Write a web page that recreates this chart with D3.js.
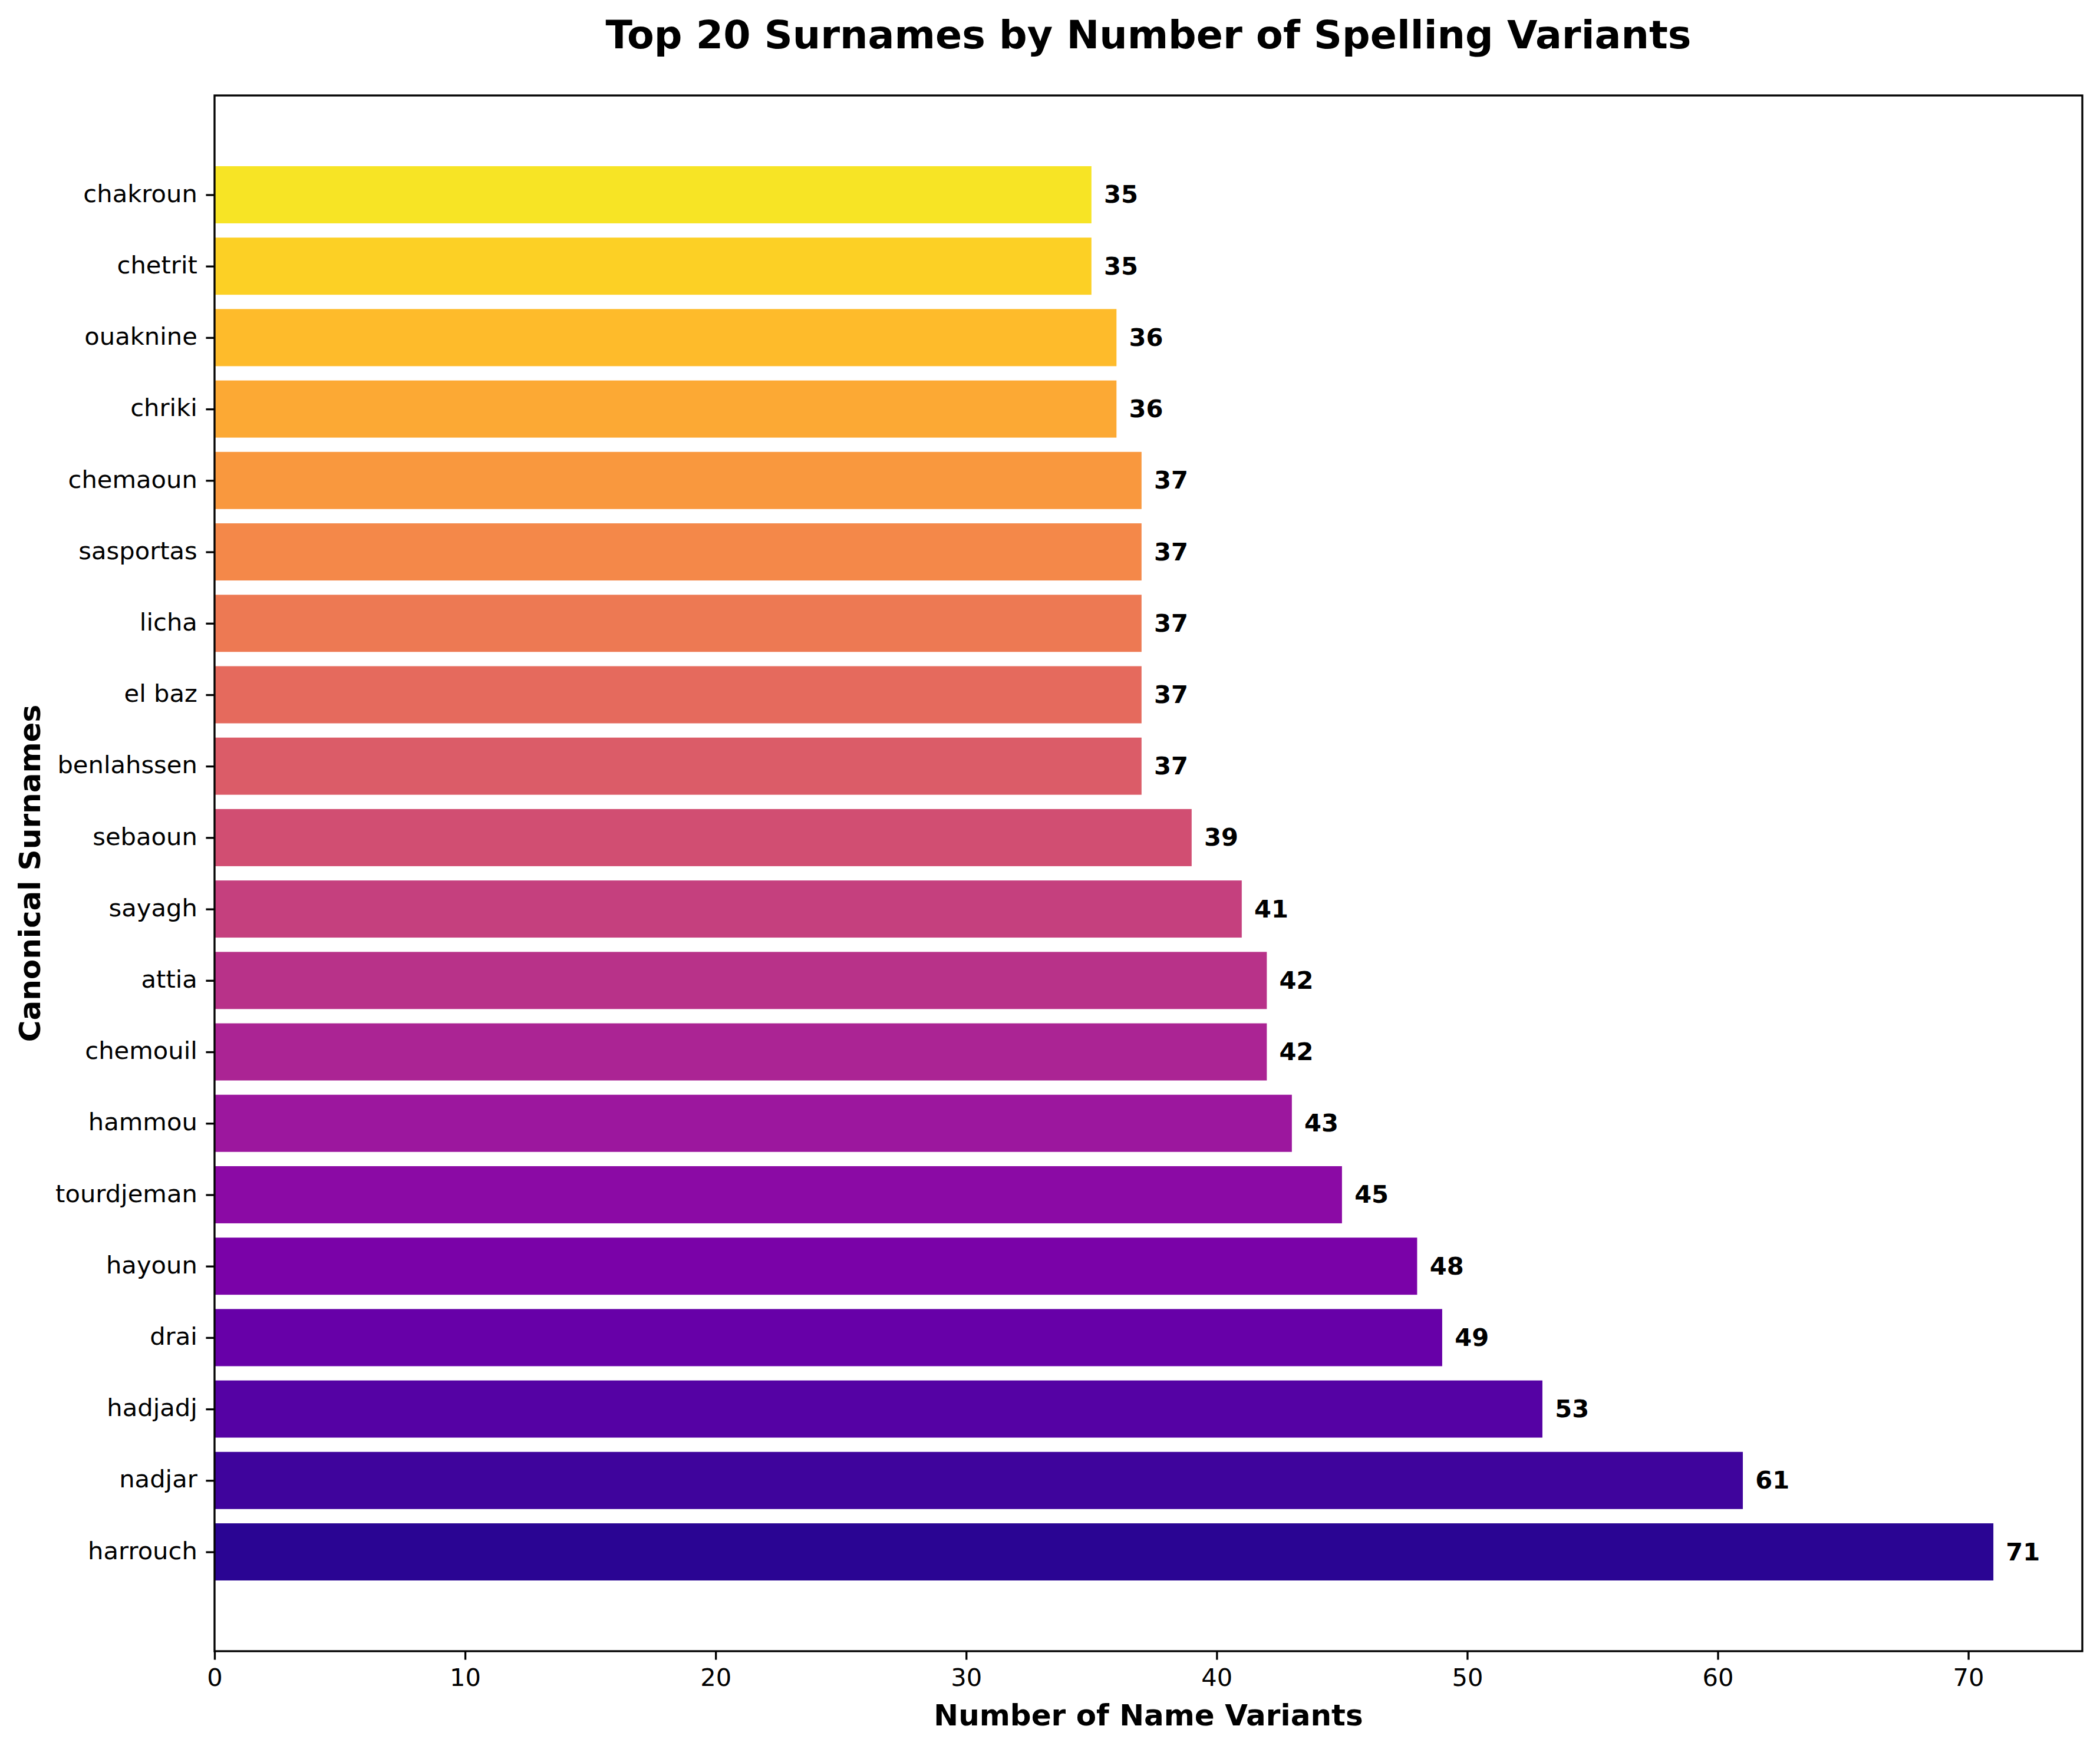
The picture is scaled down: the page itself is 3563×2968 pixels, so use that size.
<!DOCTYPE html>
<html>
<head>
<meta charset="utf-8">
<script src="https://cdn.jsdelivr.net/npm/d3@7"></script>
<style>
  html, body { margin: 0; padding: 0; background: #fff; overflow: hidden; }
  svg { display: block; }
</style>
</head>
<body>
<div id="chart"></div>
<script>
// surnames from bottom (largest) to top
const surnames = ["harrouch", "nadjar", "hadjadj", "drai", "hayoun", "tourdjeman", "hammou",
    "chemouil", "attia", "sayagh", "sebaoun", "benlahssen", "el baz", "licha", "sasportas",
    "chemaoun", "chriki", "ouaknine", "chetrit", "chakroun"];
const variantCounts = [71, 61, 53, 49, 48, 45, 43, 42, 42, 41, 39, 37, 37, 37, 37, 37, 36, 36, 35, 35];
const xTicks = [0, 10, 20, 30, 40, 50, 60, 70];

const titleText = "Top 20 Surnames by Number of Spelling Variants";
const xLabel = "Number of Name Variants";
const yLabel = "Canonical Surnames";

const width = 3563;
const height = 2968;
const margin = { top: 162, right: 30, bottom: 166, left: 364 };
const innerWidth = width - margin.left - margin.right;
const innerHeight = height - margin.top - margin.bottom;
const pt = 300 / 72;
const font = "'DejaVu Sans', sans-serif";

const svg = d3.select("#chart")
    .append("svg")
    .attr("width", width)
    .attr("height", height)
    .style("font-family", font);

svg.append("rect")
    .attr("width", width)
    .attr("height", height)
    .style("fill", "white");

const g = svg.append("g")
    .attr("transform", `translate(${margin.left},${margin.top})`);

// matplotlib-like limits: 5% margin
const xMax = d3.max(variantCounts) * 1.05;
const x = d3.scaleLinear()
    .domain([0, xMax])
    .range([0, innerWidth]);

const n = surnames.length;
const span = (n - 1) + 0.8;
const y = d3.scaleLinear()
    .domain([-0.4 - span * 0.05, n - 1 + 0.4 + span * 0.05])
    .range([innerHeight, 0]);

const color = i => d3.interpolatePlasma(0.05 + i * 0.9 / (n - 1));

// bars
g.selectAll(".bar")
    .data(variantCounts)
    .enter().append("rect")
    .attr("class", "bar")
    .attr("x", x(0))
    .attr("y", (d, i) => y(i + 0.4))
    .attr("width", d => x(d) - x(0))
    .attr("height", (d, i) => y(i - 0.4) - y(i + 0.4))
    .style("fill", (d, i) => color(i));

// value labels
g.selectAll(".value")
    .data(variantCounts)
    .enter().append("text")
    .attr("class", "value")
    .attr("x", d => x(d + 0.5))
    .attr("y", (d, i) => y(i) + 14)
    .style("font-size", 10 * pt + "px")
    .style("font-weight", "bold")
    .style("fill", "black")
    .text(d => d);

// axes
const tickLen = 3.5 * pt;
const xAxis = d3.axisBottom(x)
    .tickValues(xTicks)
    .tickSizeInner(tickLen)
    .tickSizeOuter(0)
    .tickPadding(14.8);

const xg = g.append("g")
    .attr("transform", `translate(0,${innerHeight})`)
    .call(xAxis);
xg.select(".domain").remove();
xg.selectAll("line").attr("stroke-width", 0.8 * pt);
xg.selectAll("text")
    .style("font-size", 10 * pt + "px")
    .style("font-family", font);

const yAxis = d3.axisLeft(y)
    .tickValues(d3.range(n))
    .tickFormat(i => surnames[i])
    .tickSizeInner(tickLen)
    .tickSizeOuter(0)
    .tickPadding(14.6);

const yg = g.append("g").call(yAxis);
yg.select(".domain").remove();
yg.selectAll("line").attr("stroke-width", 0.8 * pt);
yg.selectAll("text")
    .attr("dy", "0.28em")
    .style("font-size", 10 * pt + "px")
    .style("font-family", font);

// frame
g.append("rect")
    .attr("width", innerWidth)
    .attr("height", innerHeight)
    .style("fill", "none")
    .style("stroke", "black")
    .style("stroke-width", 0.8 * pt);

// title and labels
svg.append("text")
    .attr("x", margin.left + innerWidth / 2)
    .attr("y", 82)
    .attr("text-anchor", "middle")
    .style("font-size", 16 * pt + "px")
    .style("font-weight", "bold")
    .text(titleText);

svg.append("text")
    .attr("x", margin.left + innerWidth / 2)
    .attr("y", 2928)
    .attr("text-anchor", "middle")
    .style("font-size", 12 * pt + "px")
    .style("font-weight", "bold")
    .text(xLabel);

svg.append("text")
    .attr("transform", `translate(68,${margin.top + innerHeight / 2}) rotate(-90)`)
    .attr("text-anchor", "middle")
    .style("font-size", 12 * pt + "px")
    .style("font-weight", "bold")
    .text(yLabel);
</script>
</body>
</html>
